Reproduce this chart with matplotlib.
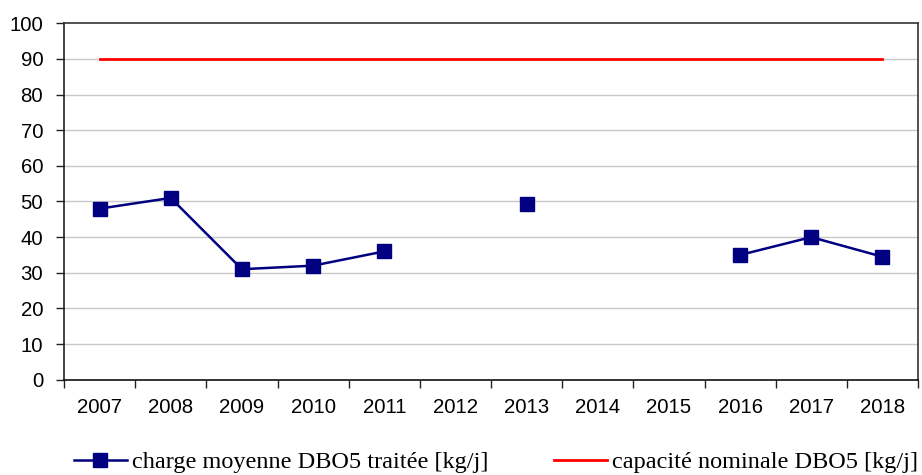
import matplotlib
matplotlib.use("Agg")
import matplotlib.pyplot as plt
import numpy as np

years = ["2007", "2008", "2009", "2010", "2011", "2012", "2013", "2014", "2015", "2016", "2017", "2018"]
charge = [48, 51, 31, 32, 36, None, 49.3, None, None, 35, 40, 34.5]
capacite = [90] * len(years)
y_ticks = list(range(0, 101, 10))

fig = plt.figure(figsize=(9.22, 4.75), dpi=100)
ax = fig.add_axes([64/922, 1 - 379.7/475, (918-64)/922, (379.7-23.3)/475])

x = np.arange(len(years))
cy = np.array([np.nan if v is None else v for v in charge], dtype=float)

l2, = ax.plot(x, capacite, color="#ff0000", lw=2, zorder=3)
l1, = ax.plot(x, cy, color="#000080", lw=1.8, marker="s", markersize=10,
              markerfacecolor="#000080", markeredgecolor="#000080", zorder=4)

ax.set_xlim(-0.5, len(years) - 0.5)
ax.set_ylim(0, 100)
ax.set_yticks(y_ticks)
ax.set_yticklabels([str(t) for t in y_ticks], fontsize=14.7, family="Liberation Sans")
ax.set_xticks(x)
ax.set_xticklabels(years, fontsize=14.7, family="Liberation Sans")
ax.set_xticks(np.arange(-0.5, len(years), 1), minor=True)
ax.tick_params(axis="x", which="major", length=0, pad=13)
ax.tick_params(axis="x", which="minor", length=6, width=1, color="#222222", direction="out")
ax.tick_params(axis="y", length=6, width=1, color="#222222", direction="out", pad=9)

for t in y_ticks[1:-1]:
    ax.axhline(t, color="#c8c8c8", lw=1, zorder=1)

for s in ax.spines.values():
    s.set_color("#333333")
    s.set_linewidth(1.2)
ax.spines["left"].set_color("#222222")
ax.spines["bottom"].set_color("#111111")

leg = fig.legend([l1, l2],
                 ["charge moyenne DBO5 traitée [kg/j]", "capacité nominale DBO5 [kg/j]"],
                 loc="center", bbox_to_anchor=(496/922, 1 - 462/475), ncol=2,
                 frameon=False, prop={"family": "Liberation Serif", "size": 17.5},
                 handlelength=2.2, handletextpad=0.2, columnspacing=2.7,
                 borderaxespad=0, borderpad=0)

fig.savefig("out.png", dpi=100)
